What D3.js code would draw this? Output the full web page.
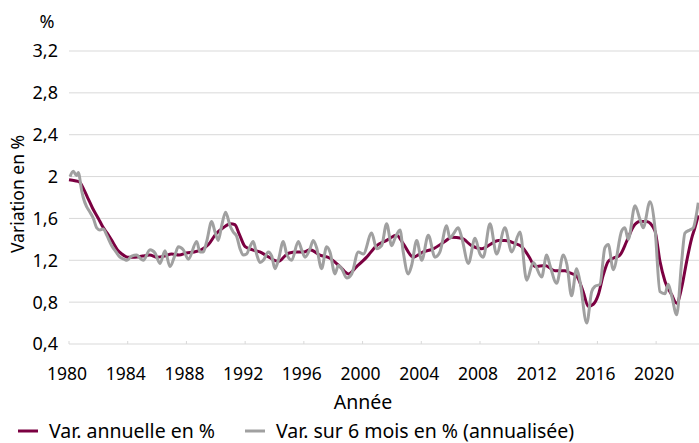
<!DOCTYPE html>
<html>
<head>
<meta charset="utf-8">
<script src="https://cdn.jsdelivr.net/npm/d3@7"></script>
<style>
  body { margin: 0; background: #fff; }
  svg { display: block; font-family: "Noto Sans", sans-serif; }
</style>
</head>
<body>
<svg id="chart" width="699" height="443"></svg>
<script>
// annual change (%)
const annualYears = [1980.0, 1980.4, 1980.7, 1981.0, 1981.3, 1981.6, 1982.0, 1982.3, 1982.6, 1983.0,
  1983.3, 1983.6, 1984.0, 1984.5, 1985.0, 1985.5, 1986.0, 1986.5, 1987.0, 1987.5,
  1988.0, 1988.5, 1989.0, 1989.5, 1990.0, 1990.5, 1991.0, 1991.3, 1991.6, 1992.0,
  1992.5, 1993.0, 1993.5, 1994.0, 1994.3, 1994.7, 1995.0, 1995.5, 1996.0, 1996.42,
  1997.1, 1997.78, 1998.46, 1999.03, 1999.6, 2000.28, 2000.96, 2001.64, 2002.32, 2002.77,
  2003.45, 2004.13, 2004.82, 2005.61, 2006.07, 2006.75, 2007.43, 2008.11, 2008.79, 2009.24,
  2009.7, 2010.38, 2010.84, 2011.4, 2011.74, 2012.43, 2013.11, 2013.78, 2014.12, 2014.58,
  2015.03, 2015.37, 2015.72, 2016.06, 2016.4, 2016.74, 2017.08, 2017.53, 2017.99, 2018.44,
  2018.9, 2019.35, 2019.92, 2020.26, 2020.6, 2021.06, 2021.4, 2021.74, 2022.08, 2022.42,
  2022.64, 2022.87]
const annualValues = [1.97, 1.96, 1.95, 1.88, 1.79, 1.70, 1.60, 1.52, 1.46, 1.37,
  1.30, 1.26, 1.23, 1.23, 1.24, 1.25, 1.23, 1.24, 1.26, 1.25,
  1.27, 1.28, 1.30, 1.35, 1.45, 1.51, 1.55, 1.54, 1.45, 1.33,
  1.30, 1.28, 1.24, 1.20, 1.19, 1.24, 1.27, 1.28, 1.28, 1.30,
  1.25, 1.22, 1.14, 1.07, 1.14, 1.23, 1.34, 1.39, 1.44, 1.36,
  1.23, 1.28, 1.31, 1.38, 1.42, 1.41, 1.34, 1.31, 1.36, 1.39,
  1.39, 1.36, 1.33, 1.22, 1.14, 1.15, 1.10, 1.10, 1.08, 1.05,
  0.90, 0.76, 0.78, 0.87, 1.06, 1.19, 1.22, 1.25, 1.38, 1.52,
  1.57, 1.57, 1.48, 1.19, 1.00, 0.87, 0.79, 0.94, 1.19, 1.41,
  1.51, 1.63]

// change over 6 months, annualised (%)
const sixMonthYears = [1980.07, 1980.29, 1980.52, 1980.63, 1980.87, 1980.97, 1981.21, 1981.43, 1981.66, 1981.89,
  1982.11, 1982.34, 1982.57, 1982.91, 1983.2, 1983.47, 1983.75, 1983.95, 1984.27, 1984.61,
  1984.84, 1985.06, 1985.52, 1985.86, 1986.2, 1986.54, 1986.88, 1987.22, 1987.45, 1987.79,
  1988.13, 1988.7, 1988.92, 1989.15, 1989.38, 1989.72, 1989.95, 1990.17, 1990.4, 1990.67,
  1990.97, 1991.19, 1991.42, 1991.65, 1991.87, 1992.1, 1992.33, 1992.55, 1992.78, 1993.01,
  1993.24, 1993.58, 1993.81, 1994.03, 1994.26, 1994.6, 1994.83, 1995.17, 1995.62, 1995.85,
  1996.08, 1996.42, 1996.64, 1996.87, 1997.21, 1997.55, 1997.78, 1998.12, 1998.35, 1998.58,
  1998.92, 1999.26, 1999.71, 2000.05, 2000.62, 2000.96, 2001.3, 2001.64, 2001.98, 2002.21,
  2002.55, 2002.77, 2003.11, 2003.34, 2003.69, 2004.03, 2004.48, 2004.93, 2005.27, 2005.73,
  2005.95, 2006.18, 2006.52, 2006.75, 2007.21, 2007.66, 2008.0, 2008.22, 2008.68, 2009.13,
  2009.7, 2010.16, 2010.72, 2011.18, 2011.63, 2012.2, 2012.54, 2012.77, 2013.22, 2013.67,
  2013.92, 2014.24, 2014.58, 2014.81, 2015.27, 2015.61, 2015.83, 2016.17, 2016.51, 2016.74,
  2017.08, 2017.65, 2017.87, 2018.1, 2018.56, 2018.9, 2019.12, 2019.58, 2019.92, 2020.26,
  2020.6, 2020.82, 2021.06, 2021.4, 2021.74, 2021.96, 2022.3, 2022.53, 2022.76, 2022.87]
const sixMonthValues = [2.00, 2.05, 2.01, 2.04, 1.86, 1.80, 1.71, 1.66, 1.60, 1.51,
  1.49, 1.50, 1.44, 1.34, 1.28, 1.23, 1.21, 1.20, 1.24, 1.25,
  1.22, 1.20, 1.30, 1.27, 1.17, 1.29, 1.14, 1.25, 1.33, 1.30,
  1.21, 1.38, 1.28, 1.28, 1.38, 1.57, 1.47, 1.39, 1.53, 1.66,
  1.53, 1.47, 1.43, 1.31, 1.25, 1.26, 1.33, 1.38, 1.26, 1.18,
  1.20, 1.28, 1.24, 1.12, 1.20, 1.38, 1.26, 1.20, 1.38, 1.30,
  1.23, 1.31, 1.39, 1.32, 1.12, 1.33, 1.28, 1.07, 1.15, 1.12,
  1.03, 1.07, 1.28, 1.26, 1.46, 1.31, 1.34, 1.55, 1.34, 1.41,
  1.49, 1.28, 1.07, 1.15, 1.39, 1.20, 1.44, 1.23, 1.28, 1.53,
  1.41, 1.45, 1.51, 1.42, 1.17, 1.41, 1.26, 1.23, 1.55, 1.26,
  1.51, 1.28, 1.47, 1.01, 1.18, 1.04, 1.25, 1.15, 0.98, 1.25,
  1.16, 0.86, 1.12, 1.00, 0.60, 0.90, 0.95, 0.97, 1.32, 1.35,
  1.11, 1.48, 1.51, 1.40, 1.72, 1.59, 1.51, 1.76, 1.51, 0.90,
  0.88, 0.97, 0.86, 0.68, 1.19, 1.46, 1.49, 1.51, 1.65, 1.75]

const yTicks = [0.4, 0.8, 1.2, 1.6, 2.0, 2.4, 2.8, 3.2]
const xTicks = [1980, 1984, 1988, 1992, 1996, 2000, 2004, 2008, 2012, 2016, 2020]

let width = 699
let height = 443
let margin = { top: 51, right: 0, bottom: 99, left: 69 }

const svg = d3.select('#chart')

const x = d3.scaleLinear()
  .domain([1980, 2022.92])
  .range([margin.left, width - margin.right])

const y = d3.scaleLinear()
  .domain([0.4, 3.2])
  .range([height - margin.bottom, margin.top])

const fmt = d => d3.format('.1f')(d).replace('.', ',').replace(/,0$/, '')

// gridlines
svg.append('g')
  .selectAll('line')
  .data(yTicks)
  .join('line')
  .attr('x1', x.range()[0])
  .attr('x2', x.range()[1])
  .attr('y1', d => y(d))
  .attr('y2', d => y(d))
  .attr('stroke', '#d9d9d9')
  .attr('stroke-width', 1)

// x tick marks
svg.append('g')
  .selectAll('line')
  .data(xTicks)
  .join('line')
  .attr('x1', d => x(d))
  .attr('x2', d => x(d))
  .attr('y1', y(0.4) - 3)
  .attr('y2', y(0.4))
  .attr('stroke', '#d9d9d9')

// y tick labels
svg.append('g')
  .selectAll('text')
  .data(yTicks)
  .join('text')
  .attr('x', 58)
  .attr('y', d => y(d))
  .attr('dy', '0.36em')
  .attr('text-anchor', 'end')
  .attr('font-size', 18)
  .attr('fill', '#000')
  .text(fmt)

// x tick labels
svg.append('g')
  .selectAll('text')
  .data(xTicks)
  .join('text')
  .attr('x', d => x(d) - 2)
  .attr('y', 380)
  .attr('text-anchor', 'middle')
  .attr('font-size', 17.5)
  .attr('fill', '#000')
  .text(d => d)

svg.append('text')
  .attr('x', 47)
  .attr('y', 28)
  .attr('text-anchor', 'middle')
  .attr('font-size', 18)
  .text('%')

svg.append('text')
  .attr('transform', 'translate(24,194) rotate(-90)')
  .attr('text-anchor', 'middle')
  .attr('font-size', 17.5)
  .text('Variation en %')

svg.append('text')
  .attr('x', 363)
  .attr('y', 409)
  .attr('text-anchor', 'middle')
  .attr('font-size', 19.5)
  .text('Année')

// lines
svg.append('clipPath')
  .attr('id', 'plot')
  .append('rect')
  .attr('x', margin.left - 4)
  .attr('y', 0)
  .attr('width', width - margin.left + 4)
  .attr('height', height - margin.bottom + 10)

const annual = annualYears.map((d, i) => [d, annualValues[i]])
const sixMonth = sixMonthYears.map((d, i) => [d, sixMonthValues[i]])

const line = d3.line()
  .x(d => x(d[0]))
  .y(d => y(d[1]))
  .curve(d3.curveMonotoneX)

svg.append('path')
  .datum(annual)
  .attr('clip-path', 'url(#plot)')
  .attr('fill', 'none')
  .attr('stroke', '#7b0041')
  .attr('stroke-width', 3)
  .attr('stroke-linejoin', 'round')
  .attr('d', line)

svg.append('path')
  .datum(sixMonth)
  .attr('clip-path', 'url(#plot)')
  .attr('fill', 'none')
  .attr('stroke', '#a0a0a0')
  .attr('stroke-width', 3)
  .attr('stroke-linejoin', 'round')
  .attr('d', line)

// legend
const legend = [
  { name: 'Var. annuelle en %', color: '#7b0041', x: 18 },
  { name: 'Var. sur 6 mois en % (annualisée)', color: '#a0a0a0', x: 245 }
]

const legendItem = svg.append('g')
  .selectAll('g')
  .data(legend)
  .join('g')
  .attr('transform', d => 'translate(' + d.x + ',431)')

legendItem.append('line')
  .attr('x1', 0)
  .attr('x2', 20)
  .attr('stroke', d => d.color)
  .attr('stroke-width', 3)

legendItem.append('text')
  .attr('x', 31)
  .attr('dy', '0.36em')
  .attr('font-size', 19.5)
  .text(d => d.name)
</script>
</body>
</html>
